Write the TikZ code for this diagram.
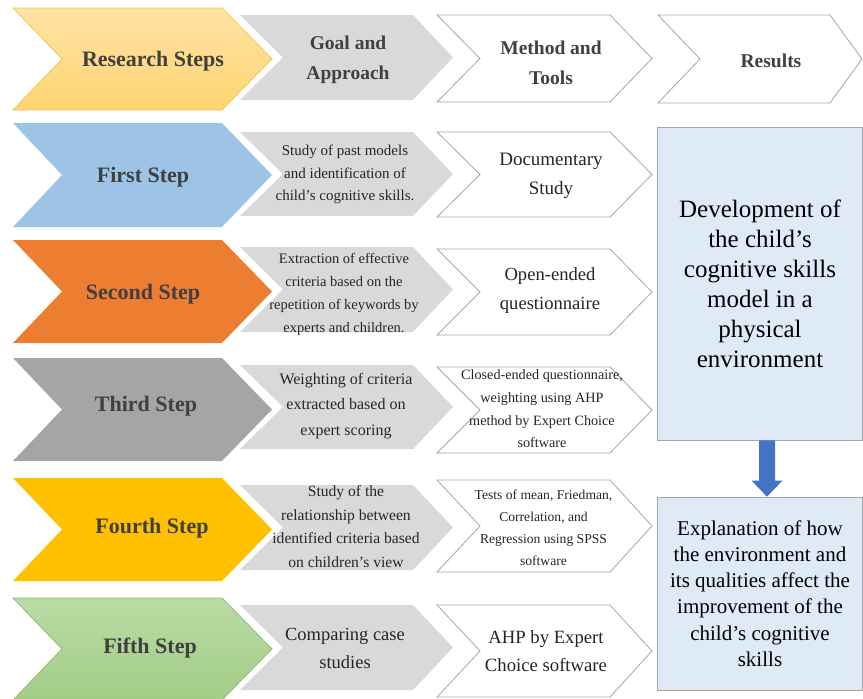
\documentclass[tikz,border=0pt]{standalone}
\usepackage{fontspec}
\setmainfont{Liberation Serif}
\usetikzlibrary{calc}
\definecolor{txtgray}{HTML}{404040}
\definecolor{bodytxt}{HTML}{262626}
\definecolor{hdrtop}{HTML}{FFE3A6}
\definecolor{hdrbot}{HTML}{FFD470}
\definecolor{hdrline}{HTML}{F2C655}
\definecolor{firstc}{HTML}{9DC3E6}
\definecolor{secondc}{HTML}{ED7D31}
\definecolor{thirdc}{HTML}{A5A5A5}
\definecolor{fourthc}{HTML}{FFC000}
\definecolor{fifthtop}{HTML}{BADBA5}
\definecolor{fifthbot}{HTML}{A2CD86}
\definecolor{fifthline}{HTML}{8DBF6E}
\definecolor{goalc}{HTML}{D9D9D9}
\definecolor{edgec}{HTML}{A6A6A6}
\definecolor{resc}{HTML}{DEEBF7}
\definecolor{arrowc}{HTML}{4472C4}
% #1 style, #2 left, #3 notch, #4 corner, #5 tip, #6 top, #7 bottom
\newcommand\chevshape[7]{\path[#1] (#2,#6) -- (#4,#6) -- (#5,{(#6+#7)/2}) -- (#4,#7) -- (#2,#7) -- (#3,{(#6+#7)/2}) -- cycle;}
\tikzset{
  bigtxt/.style={inner sep=0pt, text=txtgray, font=\fontsize{22}{26}\selectfont\bfseries},
  hdrtxt/.style={inner sep=0pt, align=center, text=txtgray, font=\fontsize{19.5}{30}\selectfont\bfseries},
  goaltxt/.style={inner sep=0pt, align=center, text=bodytxt},
  methtxt/.style={inner sep=0pt, align=center, text=bodytxt},
  goalshape/.style={fill=goalc},
  methshape/.style={fill=white, draw=edgec, line width=0.8pt},
  resbox/.style={fill=resc, draw=edgec, line width=0.8pt, inner sep=0pt, align=center, text=black},
}
\begin{document}
\begin{tikzpicture}[x=1pt,y=-1pt]
\useasboundingbox (0,0) rectangle (863,699);
% header row
\chevshape{top color=hdrtop, bottom color=hdrbot, draw=hdrline, line width=0.8pt}{13}{62}{222}{272}{8}{110}
\chevshape{goalshape}{240}{283}{413}{453}{15}{100}
\chevshape{methshape}{437}{480}{610}{652}{15}{102}
\chevshape{methshape}{658}{700}{830}{862}{15}{103}
\node[bigtxt] (h1) at (153,61) {Research Steps};
\node[hdrtxt] (h2) at (348,60) {Goal and\\Approach};
\node[hdrtxt] (h3) at (551,63) {Method and\\Tools};
\node[hdrtxt] (h4) at (771,61) {Results};
% first step
\chevshape{fill=firstc}{13}{62}{222}{272}{123}{227}
\chevshape{goalshape}{240}{283}{413}{453}{132}{216}
\chevshape{methshape}{437}{480}{610}{652}{132}{217}
\node[bigtxt] (s1) at (143,177) {First Step};
\node[goaltxt, font=\fontsize{15}{22.5}\selectfont] (g1) at (345,174.5) {Study of past models\\and identification of\\child’s cognitive skills.};
\node[methtxt, font=\fontsize{19}{29}\selectfont] (m1) at (551,175.5) {Documentary\\Study};
% second step
\chevshape{fill=secondc}{13}{62}{222}{272}{240}{343}
\chevshape{goalshape}{240}{283}{413}{453}{247}{332}
\chevshape{methshape}{437}{480}{610}{652}{249}{335}
\node[bigtxt] (s2) at (143,294) {Second Step};
\node[goaltxt, font=\fontsize{14.5}{23}\selectfont] (g2) at (344,294.5) {Extraction of effective\\criteria based on the\\repetition of keywords by\\experts and children.};
\node[methtxt, font=\fontsize{18.6}{29}\selectfont] (m2) at (550,290.5) {Open-ended\\questionnaire};
% third step
\chevshape{fill=thirdc}{13}{62}{222}{272}{358}{461}
\chevshape{goalshape}{240}{283}{413}{453}{365}{449}
\chevshape{methshape}{437}{480}{610}{652}{367}{453}
\node[bigtxt] (s3) at (146,406) {Third Step};
\node[goaltxt, font=\fontsize{16}{25.5}\selectfont] (g3) at (346,406) {Weighting of criteria\\extracted based on\\expert scoring};
\node[methtxt, font=\fontsize{14.2}{22.7}\selectfont] (m3) at (542,409) {Closed-ended questionnaire,\\weighting using AHP\\method by Expert Choice\\software};
% fourth step
\chevshape{fill=fourthc}{13}{62}{222}{272}{478}{581}
\chevshape{goalshape}{240}{283}{413}{453}{485}{570}
\chevshape{methshape}{437}{480}{610}{652}{480}{572}
\node[bigtxt] (s4) at (152,528) {Fourth Step};
\node[goaltxt, font=\fontsize{15.6}{23.5}\selectfont] (g4) at (346,526.5) {Study of the\\relationship between\\identified criteria based\\on children’s view};
\node[methtxt, font=\fontsize{13.6}{22}\selectfont] (m4) at (543.5,528) {Tests of mean, Friedman,\\Correlation, and\\Regression using SPSS\\software};
% fifth step
\chevshape{top color=fifthtop, bottom color=fifthbot, draw=fifthline, line width=0.8pt}{13}{62}{222}{272}{598}{700}
\chevshape{goalshape}{240}{283}{413}{453}{605}{690}
\chevshape{methshape}{437}{480}{610}{652}{605}{697}
\node[bigtxt] (s5) at (150,648) {Fifth Step};
\node[goaltxt, font=\fontsize{18.5}{28}\selectfont] (g5) at (345,648) {Comparing case\\studies};
\node[methtxt, font=\fontsize{18.7}{28}\selectfont] (m5) at (546,651) {AHP by Expert\\Choice software};
% results
\node[resbox, minimum width=205pt, minimum height=313pt, font=\fontsize{25}{30}\selectfont] (r1) at (760,283.5) {Development of\\the child’s\\cognitive skills\\model in a\\physical\\environment};
\node[resbox, minimum width=205pt, minimum height=193pt, font=\fontsize{21}{26.3}\selectfont] (r2) at (760,593.5) {Explanation of how\\the environment and\\its qualities affect the\\improvement of the\\child’s cognitive\\skills};
% block arrow
\coordinate (a1) at ($(r1.south)+(7,0)$);
\coordinate (a2) at ($(r2.north)+(7,0)$);
\fill[arrowc] ($(a1)+(-8,0)$) -- ($(a1)+(8,0)$) -- ($(a2)+(8,-16)$) -- ($(a2)+(15.5,-16)$) -- (a2) -- ($(a2)+(-15.5,-16)$) -- ($(a2)+(-8,-16)$) -- cycle;
\end{tikzpicture}
\end{document}
